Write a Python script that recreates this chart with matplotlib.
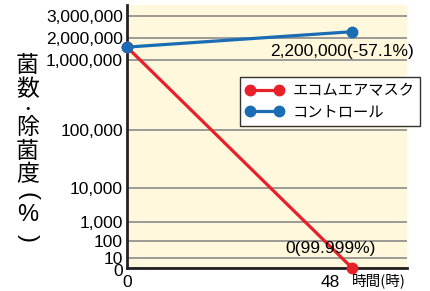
import numpy as np
import matplotlib
matplotlib.use("Agg")
import matplotlib.pyplot as plt
from matplotlib.transforms import ScaledTranslation

# data
hours = [0, 48]
ecom = [1600000, 0]          # エコムエアマスク
control = [1600000, 2300000]  # コントロール
series_names = ["エコムエアマスク", "コントロール"]
ytick_vals = [0, 10, 100, 1000, 10000, 100000, 1000000, 2000000, 3000000]
ytick_labels = [f"{v:,}" for v in ytick_vals]
note_control = "2,200,000(-57.1%)"
note_ecom = "0(99.999%)"
ylabel_chars = ["菌", "数", "・", "除", "菌", "度", "(", "%", ")"]

# hand-made axis: piecewise scale (value -> pixel height above x axis)
scale_vals = [0, 10, 100, 1000, 10000, 100000, 1000000, 2000000, 3000000, 4000000]
scale_pos = [0, 10.3, 27, 46.3, 79.7, 137.7, 207.7, 229.7, 251.7, 273.7]

def fwd(v):
    return np.interp(v, scale_vals, scale_pos)

def inv(t):
    return np.interp(t, scale_pos, scale_vals)

red = "#E8202A"
blue = "#1A6DB5"
num_font = "Liberation Sans"
jp_font = ["Noto Sans CJK JP", "DejaVu Sans"]

fig = plt.figure(figsize=(4.30, 2.91), dpi=100)
ax = fig.add_axes([127 / 430, 23 / 291, 280 / 430, 263 / 291])
ax.set_facecolor("#FFF8DC")
ax.set_yscale("function", functions=(fwd, inv))
ax.set_xlim(0, 59.7)
ax.set_ylim(0, 3514000)

ax.set_yticks(ytick_vals)
ax.set_yticklabels(ytick_labels, fontfamily=num_font, fontsize=12.5)
ax.minorticks_off()
ax.grid(axis="y", color="#8A8A8A", linewidth=1.2)
ax.set_axisbelow(True)
ax.tick_params(axis="y", length=0, pad=3)
# "0" sits a touch low so it does not run into "10"
yl0 = ax.get_yticklabels()[0]
yl0.set_transform(yl0.get_transform() + ScaledTranslation(0, -0.02, fig.dpi_scale_trans))

ax.set_xticks(hours)
ax.set_xticklabels([str(h) for h in hours], fontfamily=num_font, fontsize=12.5)
ax.tick_params(axis="x", length=0, pad=5)
xl = ax.get_xticklabels()[1]
xl.set_transform(xl.get_transform() + ScaledTranslation(-0.22, 0, fig.dpi_scale_trans))

for s in ["top", "right"]:
    ax.spines[s].set_visible(False)
for s in ["left", "bottom"]:
    ax.spines[s].set_linewidth(2)
    ax.spines[s].set_color("#222222")

ax.plot(hours, ecom, color=red, lw=2.3, marker="o", ms=7.5, label=series_names[0],
        clip_on=False, zorder=3)
ax.plot(hours, control, color=blue, lw=2.3, marker="o", ms=7.5, label=series_names[1],
        clip_on=False, zorder=4)

ax.annotate(note_control, (hours[1], control[1]), xytext=(-82, -20),
            textcoords="offset pixels", ha="left", va="center",
            fontfamily=num_font, fontsize=12.5, annotation_clip=False)
ax.annotate(note_ecom, (hours[1], ecom[1]), xytext=(-22, 19),
            textcoords="offset pixels", ha="center", va="center",
            fontfamily=num_font, fontsize=12.5)
ax.annotate("時間(時)", (hours[1], 0), xytext=(0, -13),
            textcoords="offset pixels", ha="left", va="center",
            fontfamily=jp_font, fontsize=10.5, annotation_clip=False)

leg = fig.legend(loc="upper left", bbox_to_anchor=(240 / 430, 1 - 77 / 291),
                 borderaxespad=0, numpoints=2, handlelength=2.5,
                 prop={"family": jp_font, "size": 11}, fancybox=False,
                 framealpha=1, edgecolor="#333333", borderpad=0.35,
                 labelspacing=0.25, handletextpad=0.6)
leg.get_frame().set_linewidth(1)

# vertical y label, one character per line (parens turned sideways)
label_y = [65, 90, 110, 128, 152, 175, 196, 215, 238]
for ch, py in zip(ylabel_chars, label_y):
    rot = -90 if ch in "()" else 0
    fam = num_font if ch in "()%" else jp_font
    size = 17 if ch in "()%" else (9 if ch == "・" else 16.5)
    fig.text(27.5 / 430, 1 - py / 291, ch, ha="center", va="center",
             fontfamily=fam, fontsize=size, rotation=rot,
             fontweight="bold" if ch == "・" else "normal")

fig.savefig("out.png", dpi=100)
